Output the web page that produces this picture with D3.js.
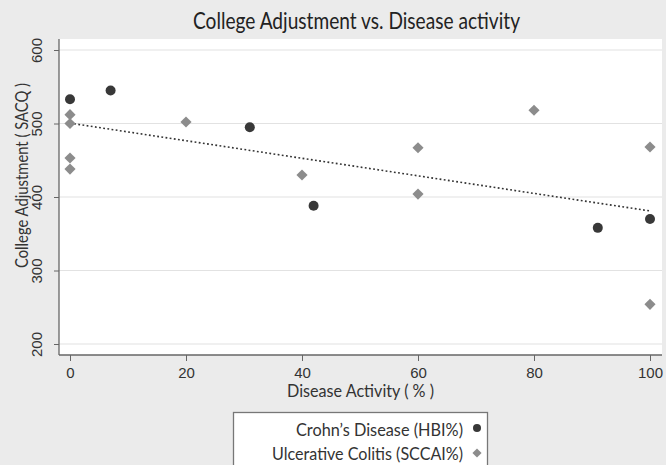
<!DOCTYPE html>
<html>
<head>
<meta charset="utf-8">
<script src="https://cdn.jsdelivr.net/npm/d3@7"></script>
<style>
	body{margin:0;background:#ebebeb;}
	svg{display:block;font-family:Lato,"Open Sans",sans-serif;}
</style>
</head>
<body>
<svg width="666" height="465"></svg>
<script>
// Crohn's disease (HBI%)
const crohnX = [0, 7, 31, 42, 91, 100];
const crohnY = [533, 545, 495, 388, 358, 370];
// Ulcerative colitis (SCCAI%)
const ucX = [0, 0, 0, 0, 20, 40, 60, 60, 80, 100, 100];
const ucY = [512, 500, 453, 438, 502, 430, 467, 404, 518, 468, 254];

const xTicks = [0, 20, 40, 60, 80, 100];
const yTicks = [200, 300, 400, 500, 600];
const legendLabels = ["Crohn’s Disease (HBI%)", "Ulcerative Colitis (SCCAI%)"];

const svg = d3.select("svg");
const plot = {left: 59, right: 662, top: 39, bottom: 355};

const x = d3.scaleLinear().domain([0, 100]).range([70, 650]);
const y = d3.scaleLinear().domain([200, 600]).range([344, 50]);

// plot background
svg.append("rect")
	.attr("x", plot.left).attr("y", plot.top)
	.attr("width", plot.right - plot.left).attr("height", plot.bottom - plot.top)
	.attr("fill", "#fff");

// gridlines
svg.append("g").selectAll("line")
	.data(yTicks)
	.join("line")
	.attr("x1", plot.left).attr("x2", plot.right)
	.attr("y1", d => y(d)).attr("y2", d => y(d))
	.attr("stroke", "#e2e2e2").attr("stroke-width", 1.2);

// axes
const yAxis = d3.axisLeft(y).tickValues(yTicks).tickSize(5).tickSizeOuter(0).tickFormat(d => d);
svg.append("g")
	.attr("transform", `translate(${plot.left},0)`)
	.call(yAxis)
	.call(g => g.select(".domain").attr("d", `M0,${plot.top}V${plot.bottom}`).attr("stroke", "#666").attr("stroke-width", 1.3))
	.call(g => g.selectAll(".tick line").attr("stroke", "#666"))
	.call(g => g.selectAll(".tick text")
		.attr("x", null).attr("dy", null)
		.attr("transform", "translate(-17,0) rotate(-90)")
		.attr("text-anchor", "middle")
		.attr("font-size", 15).attr("fill", "#333"));

const xAxis = d3.axisBottom(x).tickValues(xTicks).tickSize(6).tickSizeOuter(0);
svg.append("g")
	.attr("transform", `translate(0,${plot.bottom})`)
	.call(xAxis)
	.call(g => g.select(".domain").attr("d", `M${plot.left},0H${plot.right}`).attr("stroke", "#666").attr("stroke-width", 1.3))
	.call(g => g.selectAll(".tick line").attr("stroke", "#666"))
	.call(g => g.selectAll(".tick text").attr("font-size", 15).attr("fill", "#333").attr("dy", null).attr("y", 23));

// fitted line (least squares over all points)
const allX = crohnX.concat(ucX), allY = crohnY.concat(ucY);
const mx = d3.mean(allX), my = d3.mean(allY);
const slope = d3.sum(allX, (d, i) => (d - mx) * (allY[i] - my)) / d3.sum(allX, d => (d - mx) * (d - mx));
const icpt = my - slope * mx;
svg.append("line")
	.attr("x1", x(0)).attr("y1", y(icpt))
	.attr("x2", x(100)).attr("y2", y(icpt + slope * 100))
	.attr("stroke", "#333").attr("stroke-width", 1.6)
	.attr("stroke-dasharray", "1.8,2.4");

const diamond = d3.symbol().type(d3.symbolSquare).size(62);

svg.append("g").selectAll("path")
	.data(ucX.map((d, i) => [d, ucY[i]]))
	.join("path")
	.attr("d", diamond)
	.attr("transform", d => `translate(${x(d[0])},${y(d[1])}) rotate(45)`)
	.attr("fill", "#8c8c8c");

svg.append("g").selectAll("circle")
	.data(crohnX.map((d, i) => [d, crohnY[i]]))
	.join("circle")
	.attr("cx", d => x(d[0])).attr("cy", d => y(d[1]))
	.attr("r", 5)
	.attr("fill", "#383838");

// titles
svg.append("text")
	.attr("x", 193).attr("y", 29)
	.attr("font-size", 24).attr("fill", "#222")
	.attr("textLength", 327).attr("lengthAdjust", "spacingAndGlyphs")
	.text("College Adjustment vs. Disease activity");

svg.append("text")
	.attr("x", 287).attr("y", 397)
	.attr("font-size", 16.5).attr("fill", "#333")
	.attr("textLength", 147).attr("lengthAdjust", "spacingAndGlyphs")
	.text("Disease Activity ( % )");

svg.append("text")
	.attr("transform", "translate(28,268) rotate(-90)")
	.attr("font-size", 16.5).attr("fill", "#333")
	.attr("textLength", 185).attr("lengthAdjust", "spacingAndGlyphs")
	.text("College Adjustment ( SACQ )");

// legend
const lg = svg.append("g");
lg.append("rect")
	.attr("x", 233.5).attr("y", 412.5)
	.attr("width", 254).attr("height", 70)
	.attr("fill", "#fff").attr("stroke", "#777").attr("stroke-width", 1.3);
const rows = [436, 460];
const widths = [167, 191];
lg.selectAll("text.lab")
	.data(legendLabels)
	.join("text")
	.attr("class", "lab")
	.attr("x", (d, i) => 463 - widths[i]).attr("y", (d, i) => rows[i])
	.attr("font-size", 16.5).attr("fill", "#333")
	.attr("textLength", (d, i) => widths[i]).attr("lengthAdjust", "spacingAndGlyphs")
	.text(d => d);
lg.append("circle").attr("cx", 477).attr("cy", 428).attr("r", 4).attr("fill", "#383838");
lg.append("path").attr("d", d3.symbol().type(d3.symbolSquare).size(42))
	.attr("transform", "translate(477,453) rotate(45)").attr("fill", "#8c8c8c");
</script>
</body>
</html>
